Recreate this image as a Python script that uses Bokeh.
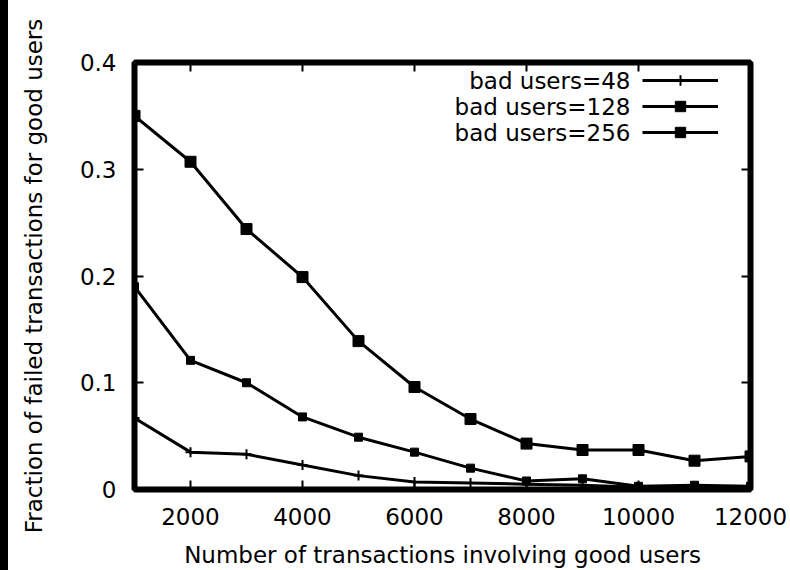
from bokeh.plotting import figure
from bokeh.models import Range1d, FixedTicker, LinearAxis, Legend, LegendItem, Label, Div
from bokeh.layouts import row
from bokeh.embed import file_html
from bokeh.resources import INLINE

# ---- data ----
transactions = [1000, 2000, 3000, 4000, 5000, 6000, 7000, 8000, 9000, 10000, 11000, 12000]
bad48 = [0.067, 0.035, 0.033, 0.023, 0.013, 0.007, 0.006, 0.005, 0.004, 0.002, 0.002, 0.002]
bad128 = [0.190, 0.121, 0.100, 0.068, 0.049, 0.035, 0.020, 0.008, 0.010, 0.003, 0.004, 0.003]
bad256 = [0.350, 0.307, 0.244, 0.199, 0.139, 0.096, 0.066, 0.043, 0.037, 0.037, 0.027, 0.031]
series_labels = ["bad users=48", "bad users=128", "bad users=256"]
x_ticks = [2000, 4000, 6000, 8000, 10000, 12000]
y_ticks = [0, 0.1, 0.2, 0.3, 0.4]
y_tick_labels = ["0", "0.1", "0.2", "0.3", "0.4"]
x_title = "Number of transactions involving good users"
y_title = "Fraction of failed transactions for good users"

FONT = "DejaVu Sans"
FS = "23px"
STRIP = 8
W, H = 790 - STRIP, 570
ML, MR, MT, MB = 134 - STRIP, 40, 62, 80

p = figure(width=W, height=H, output_backend="svg", toolbar_location=None,
           x_range=Range1d(1000, 12000), y_range=Range1d(0, 0.4),
           min_border_left=ML, min_border_right=MR, min_border_top=MT, min_border_bottom=MB,
           x_axis_label=x_title, y_axis_label=y_title, margin=0)
p.background_fill_color = "white"
p.border_fill_color = "white"
p.grid.visible = False
p.outline_line_color = "black"
p.outline_line_width = 6
p.outline_line_alpha = 1.0

p.xaxis.ticker = FixedTicker(ticks=x_ticks)
p.yaxis.ticker = FixedTicker(ticks=y_ticks)
p.yaxis.major_label_overrides = {t: l for t, l in zip(y_ticks, y_tick_labels)}
p.xaxis.major_label_standoff = 18
p.yaxis.major_label_standoff = 18

for ax in [p.xaxis[0], p.yaxis[0]]:
    ax.axis_line_alpha = 0
    ax.major_tick_in = 9
    ax.major_tick_out = 0
    ax.major_tick_line_width = 2
    ax.major_tick_line_color = "black"
    ax.minor_tick_line_color = None
    ax.major_label_text_font = FONT
    ax.major_label_text_font_size = FS
    ax.major_label_text_color = "black"
    ax.axis_label_text_font = FONT
    ax.axis_label_text_font_size = FS
    ax.axis_label_text_font_style = "normal"
    ax.axis_label_text_color = "black"
p.xaxis.axis_label_standoff = 14
p.yaxis.axis_label_standoff = 30

# mirror ticks on the right and top
right_ax = LinearAxis(ticker=FixedTicker(ticks=y_ticks),
                      major_label_overrides={t: "" for t in y_ticks})
top_ax = LinearAxis(ticker=FixedTicker(ticks=x_ticks),
                    major_label_overrides={t: "" for t in x_ticks})
for ax in [right_ax, top_ax]:
    ax.axis_line_alpha = 0
    ax.major_tick_in = 9
    ax.major_tick_out = 0
    ax.major_tick_line_width = 2
    ax.major_tick_line_color = "black"
    ax.minor_tick_line_color = None
    ax.major_label_standoff = 0
p.add_layout(right_ax, "right")
p.add_layout(top_ax, "above")

# ---- series ----
l48 = p.line(transactions, bad48, line_color="black", line_width=3)
m48 = p.scatter(transactions, bad48, marker="cross", size=10, line_color="black", line_width=2)
l128 = p.line(transactions, bad128, line_color="black", line_width=3)
m128 = p.scatter(transactions, bad128, marker="square", size=8, fill_color="black", line_color="black")
l256 = p.line(transactions, bad256, line_color="black", line_width=3)
m256 = p.scatter(transactions, bad256, marker="square", size=11, fill_color="black", line_color="black")

legend = Legend(items=[LegendItem(label="", renderers=[l48, m48]),
                       LegendItem(label="", renderers=[l128, m128]),
                       LegendItem(label="", renderers=[l256, m256])],
                location=(508, 344), orientation="vertical",
                glyph_width=76, glyph_height=26, label_width=0, label_height=26,
                label_standoff=0, spacing=0, padding=0, margin=0,
                border_line_alpha=0, background_fill_alpha=0)
p.add_layout(legend)

row_y = [409, 383, 357]
for txt, yy in zip(series_labels, row_y):
    p.add_layout(Label(x=496, y=yy, x_units="screen", y_units="screen", text=txt,
                       text_align="right", text_baseline="middle",
                       text_font=FONT, text_font_size=FS, text_color="black"))

# black strip along the left edge
strip = Div(text="", width=STRIP, height=H, margin=0, styles={"background-color": "black"})
layout = row(strip, p, spacing=0, margin=0)

open("out.html", "w").write(file_html(layout, INLINE))
